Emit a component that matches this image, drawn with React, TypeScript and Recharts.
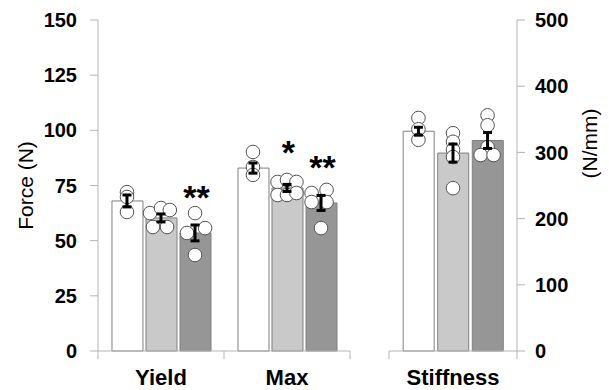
import React from 'react';
import {
  ComposedChart,
  Bar,
  Scatter,
  ErrorBar,
  XAxis,
  YAxis,
  Cell,
  LabelList,
} from 'recharts';

// categories (left chart: force, right chart: stiffness)
const FORCE_CATEGORIES = ['Yield', 'Max'];
const STIFF_CATEGORIES = ['Stiffness'];

// three groups: white, light grey, dark grey bars
const YIELD_MEANS = [68.0, 60.3, 53.5];
const YIELD_SEM = [2.7, 1.8, 3.6];
const MAX_MEANS = [82.9, 73.9, 67.1];
const MAX_SEM = [2.3, 1.6, 3.4];
const STIFF_MEANS = [332, 299, 318];
const STIFF_SEM = [6, 13.6, 12];

// individual samples
const YIELD_POINTS = [[72, 69.8, 63], [62.5, 64.8, 63.9, 56.2, 56.2], [62.5, 55.7, 53.5, 43.5]];
const YIELD_JITTER = [[0, 0, 0], [-0.087, 0, 0.07, -0.064, 0.048], [0, 0.08, -0.064, 0]];
const MAX_POINTS = [[90.2, 83.4, 79.8], [76.6, 77.5, 76.6, 70.7, 70.7, 71.6], [71.6, 73, 67.5, 67.5, 55.7]];
const MAX_JITTER = [[0, 0, 0], [-0.075, 0, 0.075, -0.075, 0, 0.075], [-0.075, 0.044, -0.075, 0.044, 0]];
const STIFF_POINTS = [[352, 335, 319], [329, 316, 304, 293, 246], [356, 341, 308, 296, 296]];
const STIFF_JITTER = [[0, 0, 0], [0, 0, 0, 0, 0], [0, 0, 0, -0.054, 0.047]];

const YIELD_STARS = ['', '', '**'];
const MAX_STARS = ['', '*', '**'];
const STIFF_STARS = ['', '', ''];

const FORCE_TICKS = [0, 25, 50, 75, 100, 125, 150];
const STIFF_TICKS = [0, 100, 200, 300, 400, 500];

const BAR_FILLS = ['#ffffff', '#c9c9c9', '#969696'];
const BAR_STROKE = '#808080';
const AXIS = '#b5b5b5';
const OFFSETS = [-0.27, 0, 0.27];
const FONT = '"Liberation Sans", Arial, sans-serif';

type BarRow = { x: number; mean: number; sem: number; star: string; g: number };
type Pt = { x: number; v: number };

const barRows = (cat: number, means: number[], sems: number[], stars: string[]): BarRow[] =>
  means.map((m, i) => ({ x: cat + 0.5 + OFFSETS[i], mean: m, sem: sems[i], star: stars[i], g: i }));

const pointRows = (cat: number, pts: number[][], jit: number[][]): Pt[] =>
  pts.flatMap((list, i) => list.map((v, k) => ({ x: cat + 0.5 + OFFSETS[i] + jit[i][k], v })));

const forceBars = [
  ...barRows(0, YIELD_MEANS, YIELD_SEM, YIELD_STARS),
  ...barRows(1, MAX_MEANS, MAX_SEM, MAX_STARS),
];
const forcePts = [...pointRows(0, YIELD_POINTS, YIELD_JITTER), ...pointRows(1, MAX_POINTS, MAX_JITTER)];
const stiffBars = barRows(0, STIFF_MEANS, STIFF_SEM, STIFF_STARS);
const stiffPts = pointRows(0, STIFF_POINTS, STIFF_JITTER);

const CatTick = (props: any) => {
  const { x, y, payload, labels } = props;
  const v = Number(payload?.value);
  if (Number.isInteger(v)) {
    return <line x1={x} x2={x} y1={y} y2={y + 8} stroke={AXIS} />;
  }
  return (
    <text x={x} y={y + 34} textAnchor="middle" fontSize={22} fontWeight={700} fill="#000">
      {labels[Math.floor(v)]}
    </text>
  );
};

const Dot = (props: any) => (
  <circle cx={props.cx} cy={props.cy} r={6.8} fill="#fff" stroke="#555" strokeWidth={1} />
);

const Nothing = () => <g />;

const StarLabel = (props: any) => {
  const { x, y, width, value } = props;
  if (!value) return null;
  return (
    <text x={x + width / 2 + 1} y={y - 24} textAnchor="middle" fontSize={34} fontWeight={700} fill="#000">
      {value}
    </text>
  );
};

function Panel({
  bars,
  pts,
  labels,
  domainMax,
  ticks,
  side,
  width,
  margin,
  yWidth,
  axisTitle,
}: any) {
  const n = labels.length;
  const xTicks: number[] = [];
  for (let i = 0; i <= n * 2; i++) xTicks.push(i / 2);
  return (
    <ComposedChart width={width} height={390} data={bars} margin={margin}>
      <XAxis
        type="number"
        dataKey="x"
        domain={[0, n]}
        ticks={xTicks}
        interval={0}
        tickSize={0}
        tickMargin={0}
        tickLine={false}
        axisLine={{ stroke: AXIS }}
        height={39}
        tick={<CatTick labels={labels} />}
      />
      <XAxis xAxisId="pts" type="number" dataKey="x" domain={[0, n]} hide />
      <YAxis
        orientation={side}
        domain={[0, domainMax]}
        ticks={ticks}
        interval={0}
        width={yWidth}
        tickSize={8}
        tickMargin={side === 'left' ? 13 : 10}
        axisLine={{ stroke: AXIS }}
        tickLine={{ stroke: AXIS }}
        tick={{ fontSize: 20, fontWeight: 700, fill: '#000' }}
        label={{ content: axisTitle }}
      />
      <Bar dataKey="mean" barSize={31} isAnimationActive={false}>
        {bars.map((b: BarRow, i: number) => (
          <Cell key={i} fill={BAR_FILLS[b.g]} stroke={BAR_STROKE} strokeWidth={1} />
        ))}
        <LabelList dataKey="star" content={<StarLabel />} />
      </Bar>
      <Scatter xAxisId="pts" data={pts} dataKey="v" shape={<Dot />} isAnimationActive={false} />
      <Scatter
        xAxisId="pts"
        data={bars}
        dataKey="mean"
        shape={<Nothing />}
        isAnimationActive={false}
        {...({ zIndex: 800 } as any)}
      >
        <ErrorBar
          dataKey="sem"
          direction="y"
          width={4.5}
          stroke="#000"
          strokeWidth={3}
          {...({ zIndex: 800 } as any)}
        />
      </Scatter>
    </ComposedChart>
  );
}

const ForceTitle = (props: any) => {
  const vb = props.viewBox || { x: 0, y: 20, height: 331 };
  const cy = vb.y + vb.height / 2;
  return (
    <text transform={`translate(33, ${cy}) rotate(-90)`} textAnchor="middle" fontSize={21} fill="#000">
      Force (N)
    </text>
  );
};

const StiffTitle = (props: any) => {
  const vb = props.viewBox || { x: 137, y: 20, height: 331 };
  const cy = vb.y + vb.height / 2 - 42;
  return (
    <text transform={`translate(${vb.x + 80}, ${cy}) rotate(-90)`} textAnchor="middle" fontSize={21} fill="#000">
      (N/mm)
    </text>
  );
};

export default function App() {
  return (
    <div
      style={{
        position: 'absolute',
        left: 0,
        top: 0,
        width: 609,
        height: 390,
        background: '#fff',
        fontFamily: FONT,
        overflow: 'hidden',
      }}
    >
      <div style={{ position: 'absolute', left: 0, top: 0 }}>
        <Panel
          bars={forceBars}
          pts={forcePts}
          labels={FORCE_CATEGORIES}
          domainMax={150}
          ticks={FORCE_TICKS}
          side="left"
          width={360}
          margin={{ top: 20, right: 10, bottom: 0, left: 0 }}
          yWidth={98}
          axisTitle={<ForceTitle />}
        />
      </div>
      <div style={{ position: 'absolute', left: 380, top: 0 }}>
        <Panel
          bars={stiffBars}
          pts={stiffPts}
          labels={STIFF_CATEGORIES}
          domainMax={500}
          ticks={STIFF_TICKS}
          side="right"
          width={229}
          margin={{ top: 20, right: 0, bottom: 0, left: 9 }}
          yWidth={92}
          axisTitle={<StiffTitle />}
        />
      </div>
    </div>
  );
}
